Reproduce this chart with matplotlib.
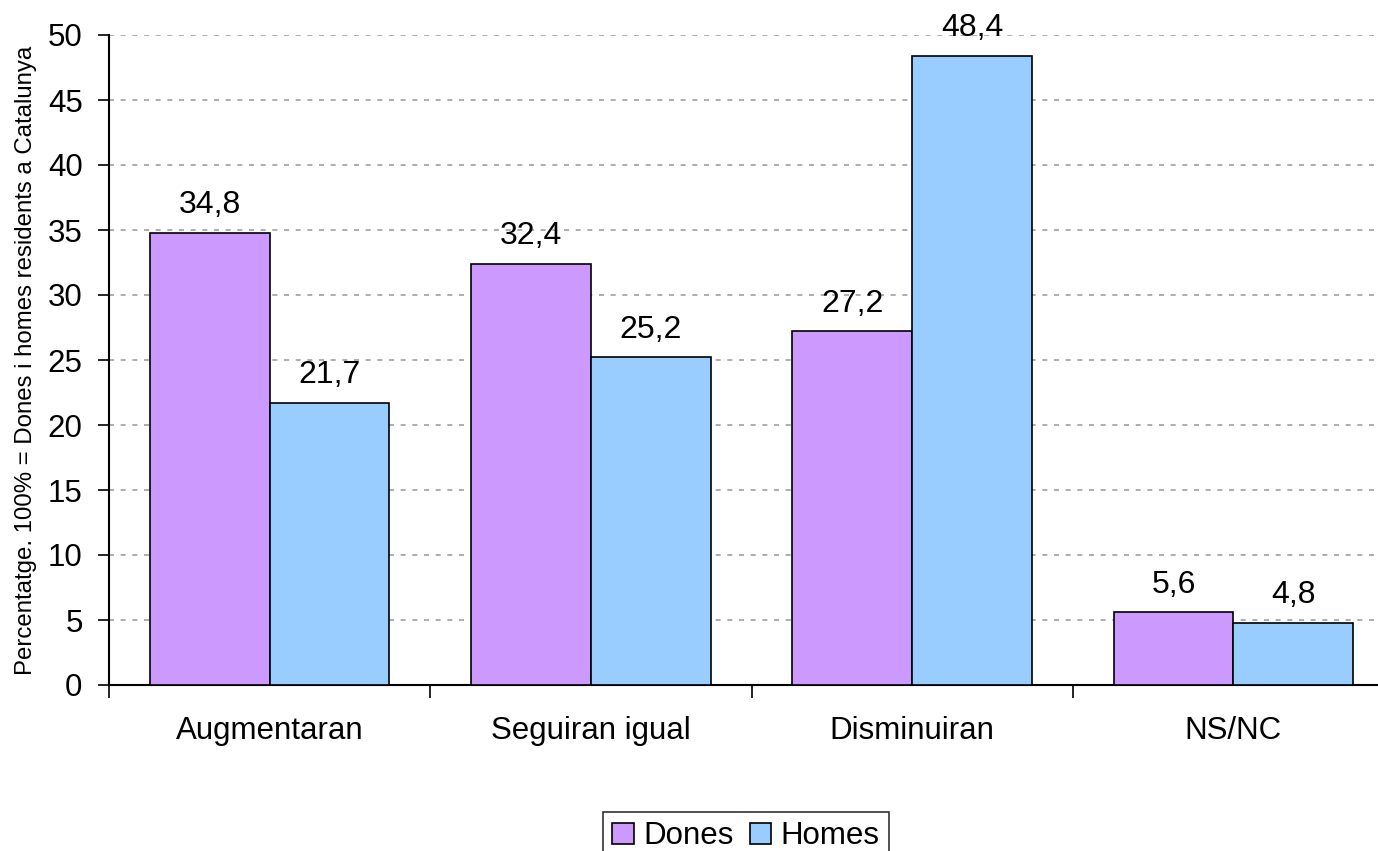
import matplotlib
matplotlib.use("Agg")
import matplotlib.pyplot as plt
import numpy as np

categories = ["Augmentaran", "Seguiran igual", "Disminuiran", "NS/NC"]
dones = [34.8, 32.4, 27.2, 5.6]
homes = [21.7, 25.2, 48.4, 4.8]
series_names = ["Dones", "Homes"]
yticks = [0, 5, 10, 15, 20, 25, 30, 35, 40, 45, 50]

plt.rcParams['font.family'] = ['Liberation Sans', 'DejaVu Sans']

W, H = 1378, 851
fig = plt.figure(figsize=(W / 100, H / 100), dpi=100)
left, right, bottom, top = 109, 1394, 685, 35
ax = fig.add_axes([left / W, 1 - bottom / H, (right - left) / W, (bottom - top) / H])

x = np.arange(len(categories))
bw = 120 / 322
b1 = ax.bar(x - bw / 2, dones, bw, color="#cc99ff", edgecolor="black", linewidth=1.2, label=series_names[0], zorder=3)
b2 = ax.bar(x + bw / 2, homes, bw, color="#99ccff", edgecolor="black", linewidth=1.2, label=series_names[1], zorder=3)

for bars, vals in ((b1, dones), (b2, homes)):
    for r, v in zip(bars, vals):
        ax.annotate(f"{v:.1f}".replace(".", ","), (r.get_x() + r.get_width() / 2, v),
                    xytext=(0, 9), textcoords="offset points", ha="center", va="bottom",
                    fontsize=23)

ax.set_xlim(-0.5, len(categories) - 0.5)
ax.set_ylim(0, 50)
ax.set_yticks(yticks)
ax.set_yticklabels([str(t) for t in yticks], fontsize=22.5)
ax.set_xticks(x)
ax.set_xticklabels(categories, fontsize=22.5)
ax.tick_params(axis='x', length=0, pad=22)
ax.set_xticks(np.arange(len(categories) + 1) - 0.5, minor=True)
ax.tick_params(axis='x', which='minor', length=9, width=1.2, direction='out')
ax.tick_params(axis='y', length=8, width=1.2, direction='out', pad=11)
ax.grid(axis='y', color="#a0a0a0", linestyle=(0, (3, 4)), linewidth=1.2, zorder=0)
ax.set_axisbelow(True)
for s in ("top", "right"):
    ax.spines[s].set_visible(False)
for s in ("left", "bottom"):
    ax.spines[s].set_linewidth(1.5)

ax.set_ylabel("Percentatge. 100% = Dones i homes residents a Catalunya", fontsize=17.3, labelpad=8)

leg = fig.legend(handles=[b1, b2], labels=series_names, loc="upper center",
                 bbox_to_anchor=(746 / W, 1 - 812 / H), ncol=2, fontsize=22.5,
                 frameon=True, fancybox=False, edgecolor="black", handlelength=0.7,
                 handleheight=0.7, handletextpad=0.3, columnspacing=0.5, borderpad=0.3,
                 borderaxespad=0)
leg.get_frame().set_linewidth(1.2)

fig.savefig("out.png", dpi=100)
